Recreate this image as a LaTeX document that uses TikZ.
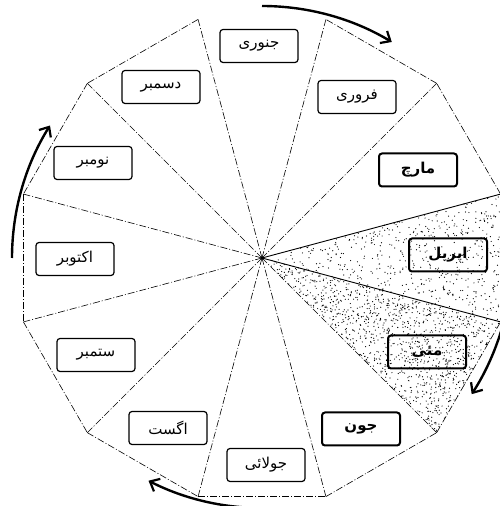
\documentclass[tikz,border=0pt]{standalone}
\usepackage{fontspec}
\newfontfamily\arabicfont[Script=Arabic]{DejaVu Sans}
\TeXXeTstate=1
\usetikzlibrary{arrows.meta,calc}
\begin{document}
\begin{tikzpicture}[x=1pt,y=1pt,
  month/.style={draw, line width=1.2pt, rounded corners=3pt, minimum width=78pt, minimum height=33pt, inner sep=0pt, font=\arabicfont\fontsize{15}{17}\selectfont},
  hot/.style={month, line width=2pt, font=\arabicfont\bfseries\fontsize{15}{17}\selectfont},
  dd/.style={line width=0.6pt, dash pattern=on 7pt off 2pt on 1pt off 2pt},
  solidspoke/.style={line width=0.9pt},
  cyclearrow/.style={line width=2.4pt, -{Straight Barb[length=8pt,width=14pt,line width=2.2pt]}}
]
\useasboundingbox (0,0) rectangle (500,506);
\coordinate (C) at (262,248);
\foreach \k in {0,...,11} \coordinate (V\k) at ($(C)+({15+30*\k}:247)$);
% stipple: April (sparse) and May (dense)
\pgfmathsetseed{7}
\foreach \i in {1,...,520}{
  \pgfmathsetmacro\u{rnd}\pgfmathsetmacro\v{rnd}
  \pgfmathsetmacro\s{(\u+\v>1) ? 1-\u : \u}
  \pgfmathsetmacro\t{(\u+\v>1) ? 1-\v : \v}
  \fill ({262+238.58*(\s+\t)},{248+63.93*(\s-\t)}) circle (0.6pt);
}
\foreach \i in {1,...,1150}{
  \pgfmathsetmacro\u{rnd}\pgfmathsetmacro\v{rnd}
  \pgfmathsetmacro\s{(\u+\v>1) ? 1-\u : \u}
  \pgfmathsetmacro\t{(\u+\v>1) ? 1-\v : \v}
  \fill ({262+238.58*\s+174.66*\t},{248-63.93*\s-174.66*\t}) circle (0.6pt);
}
% spokes
\foreach \k in {1,...,10} \draw[dd] (C) -- (V\k);
\draw[solidspoke] (C) -- (V0);
\draw[solidspoke] (C) -- (V11);
% outer edges (top edge absent)
\foreach \k/\j in {0/1,1/2,3/4,4/5,5/6,6/7,7/8,8/9,9/10,10/11,11/0} \draw[dd] (V\k) -- (V\j);
\fill (C) circle (1.5pt);
% month boxes
\node[month] (jan) at (259,460) {\beginR جنوری\endR};
\node[month] (feb) at (357,409) {\beginR فروری\endR};
\node[hot]   (mar) at (418,336) {\beginR مارچ\endR};
\node[hot]   (apr) at (448,251) {\beginR اپریل\endR};
\node[hot]   (may) at (427,154) {\beginR مئی\endR};
\node[hot]   (jun) at (361,77)  {\beginR جون\endR};
\node[month] (jul) at (266,41)  {\beginR جولائی\endR};
\node[month] (aug) at (168,78)  {\beginR اگست\endR};
\node[month] (sep) at (96,151)  {\beginR ستمبر\endR};
\node[month] (oct) at (75,247)  {\beginR اکتوبر\endR};
\node[month] (nov) at (93,343)  {\beginR نومبر\endR};
\node[month] (dec) at (161,419) {\beginR دسمبر\endR};
% cycle arrows
\coordinate (A1) at ($(C)+(90:252)$);
\coordinate (A2) at ($(C)+(-17:250)$);
\coordinate (A3) at ($(C)+(-86:250)$);
\coordinate (A4) at ($(C)+(180:250)$);
\draw[cyclearrow] (A1) arc[start angle=90, end angle=59, radius=252];
\draw[cyclearrow] (A2) arc[start angle=-17, end angle=-33, radius=250];
\draw[cyclearrow] (A3) arc[start angle=-86, end angle=-117, radius=250];
\draw[cyclearrow] (A4) arc[start angle=180, end angle=148, radius=250];
\end{tikzpicture}
\end{document}
